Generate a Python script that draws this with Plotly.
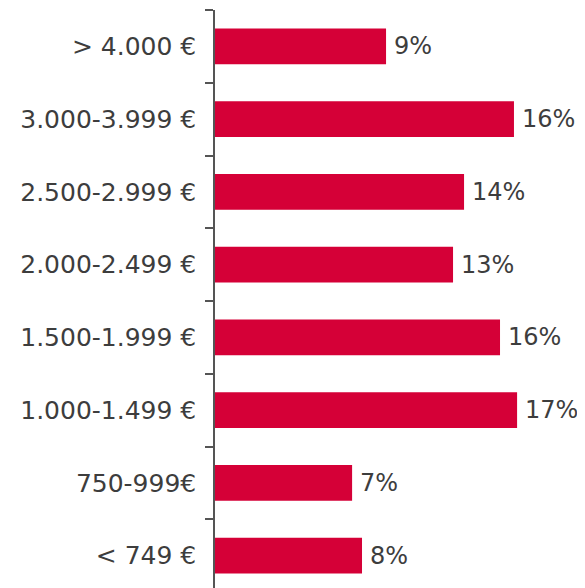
import plotly.graph_objects as go

categories = ["< 749 €", "750-999€", "1.000-1.499 €", "1.500-1.999 €",
              "2.000-2.499 €", "2.500-2.999 €", "3.000-3.999 €", "> 4.000 €"]
values = [8.01, 7.47, 16.46, 15.53, 12.97, 13.57, 16.29, 9.32]
value_labels = ["8%", "7%", "17%", "16%", "13%", "14%", "16%", "9%"]

FONT = "DejaVu Sans"
TXT = "#3d3d3d"

fig = go.Figure(go.Bar(
    x=values, y=categories, orientation="h",
    marker=dict(color="#D50037", line=dict(width=0)),
    width=0.49,
))

for v, c, t in zip(values, categories, value_labels):
    fig.add_annotation(x=v, y=c, text=t, showarrow=False, xanchor="left",
                       xshift=6, font=dict(family=FONT, size=24, color=TXT))

fig.update_layout(
    width=577, height=580,
    margin=dict(l=207, r=0, t=2, b=0, autoexpand=False),
    paper_bgcolor="white", plot_bgcolor="white",
    showlegend=False,
    font=dict(family=FONT, size=25, color=TXT),
    xaxis=dict(range=[0, 20.16], visible=False, showgrid=False, zeroline=False),
    yaxis=dict(
        type="category", categoryorder="array", categoryarray=categories,
        range=[-0.445, 7.5],
        showline=True, linecolor="#555555", linewidth=1.5,
        ticks="outside", tickson="boundaries", ticklen=8, tickcolor="#555555", tickwidth=1.5,
        ticklabelstandoff=12,
        showgrid=False, zeroline=False,
        tickfont=dict(family=FONT, size=25, color=TXT),
    ),
)

fig.write_html("out.html")
